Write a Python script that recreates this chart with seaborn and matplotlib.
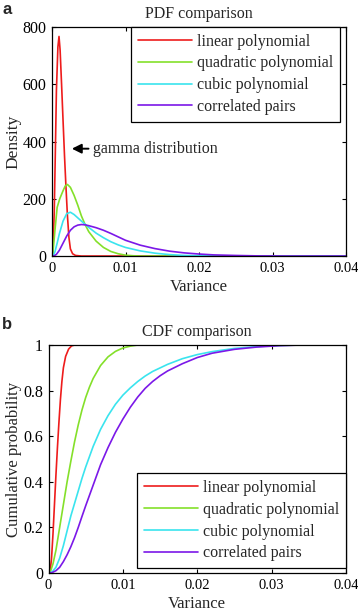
import pandas as pd
import numpy as np
import seaborn as sns
import matplotlib.pyplot as plt
from matplotlib.ticker import FormatStrFormatter

labels = ["linear polynomial", "quadratic polynomial", "cubic polynomial", "correlated pairs"]
colors = ["#ee1c1c", "#84e02a", "#3ae4ee", "#7b18e8"]

# PDF curves
pdf_x_linear = [0, 0.0001, 0.0003, 0.00045, 0.0006, 0.0008, 0.00095, 0.0011, 0.0013, 0.0015,
                0.0017, 0.0019, 0.0021, 0.0023, 0.0025, 0.0028, 0.0032, 0.004, 0.04]
pdf_linear = [0, 5, 150, 360, 580, 730, 767, 720, 600, 474, 350, 240, 140, 65, 25, 8, 2, 0, 0]

pdf_x_quad = [0, 0.0001, 0.0004, 0.0007, 0.00105, 0.0015, 0.0018, 0.0021, 0.0025, 0.003, 0.0035,
              0.004, 0.0045, 0.005, 0.006, 0.007, 0.008, 0.009, 0.01, 0.011, 0.012, 0.04]
pdf_quad = [0, 5, 90, 170, 200, 228, 245, 250, 240, 212, 178, 140, 110, 85, 52, 30, 16, 8, 3, 1, 0, 0]

pdf_x_cubic = [0, 0.0002, 0.0004, 0.0007, 0.001, 0.0015, 0.002, 0.0025, 0.003, 0.004, 0.005,
               0.006, 0.007, 0.008, 0.009, 0.01, 0.012, 0.014, 0.016, 0.018, 0.02, 0.024, 0.04]
pdf_cubic = [0, 3, 15, 45, 78, 122, 148, 153, 145, 122, 100, 80, 64, 50, 39, 30, 18, 10, 5, 2, 1, 0, 0]

pdf_x_pairs = [0, 0.0003, 0.0006, 0.001, 0.0015, 0.002, 0.0025, 0.003, 0.0035, 0.004, 0.0045,
               0.005, 0.006, 0.007, 0.008, 0.009, 0.01, 0.012, 0.014, 0.016, 0.018, 0.02,
               0.022, 0.025, 0.028, 0.032, 0.04]
pdf_pairs = [0, 1, 6, 20, 45, 70, 90, 102, 108, 110, 109, 106, 99, 90, 79, 67, 55, 38, 26, 17,
             11, 7, 4, 2, 0.5, 0, 0]

# CDF curves
cdf_x_linear = [0, 0.0002, 0.0004, 0.0006, 0.0008, 0.001, 0.0012, 0.0014, 0.0016, 0.0018,
                0.002, 0.0023, 0.0027, 0.0031, 0.0035, 0.04]
cdf_linear = [0, 0.005, 0.06, 0.17, 0.3, 0.43, 0.55, 0.66, 0.76, 0.84, 0.9, 0.95, 0.982,
              0.996, 1, 1]

cdf_x_quad = [0, 0.0003, 0.0006, 0.001, 0.0015, 0.002, 0.0025, 0.003, 0.0035, 0.004, 0.0045,
              0.005, 0.0055, 0.006, 0.007, 0.008, 0.009, 0.01, 0.011, 0.012, 0.04]
cdf_quad = [0, 0.01, 0.04, 0.1, 0.2, 0.3, 0.4, 0.49, 0.575, 0.65, 0.715, 0.77, 0.815, 0.853,
            0.91, 0.948, 0.972, 0.987, 0.995, 1, 1]

cdf_x_cubic = [0, 0.0005, 0.001, 0.0015, 0.002, 0.0025, 0.003, 0.0035, 0.004, 0.0045, 0.005,
               0.006, 0.007, 0.008, 0.009, 0.01, 0.011, 0.012, 0.013, 0.014, 0.016, 0.018,
               0.02, 0.022, 0.025, 0.028, 0.031, 0.034, 0.04]
cdf_cubic = [0, 0.005, 0.025, 0.065, 0.12, 0.185, 0.25, 0.305, 0.36, 0.415, 0.465, 0.555,
             0.63, 0.69, 0.74, 0.78, 0.812, 0.84, 0.864, 0.884, 0.915, 0.94, 0.958, 0.971,
             0.985, 0.993, 0.998, 1, 1]

cdf_x_pairs = [0, 0.0005, 0.001, 0.0015, 0.002, 0.0025, 0.003, 0.0035, 0.004, 0.0045, 0.005,
               0.006, 0.007, 0.008, 0.009, 0.01, 0.011, 0.012, 0.013, 0.014, 0.015, 0.016,
               0.018, 0.02, 0.022, 0.025, 0.028, 0.031, 0.034, 0.04]
cdf_pairs = [0, 0.002, 0.01, 0.025, 0.05, 0.08, 0.115, 0.155, 0.2, 0.248, 0.295, 0.385, 0.475,
             0.55, 0.617, 0.675, 0.727, 0.772, 0.81, 0.84, 0.865, 0.886, 0.918, 0.945, 0.964,
             0.981, 0.991, 0.997, 1, 1]


def long_df(xs, ys):
    parts = []
    for lab, x, y in zip(labels, xs, ys):
        parts.append(pd.DataFrame({"Variance": x, "value": y, "method": lab}))
    return pd.concat(parts, ignore_index=True)


pdf_df = long_df([pdf_x_linear, pdf_x_quad, pdf_x_cubic, pdf_x_pairs],
                 [pdf_linear, pdf_quad, pdf_cubic, pdf_pairs])
cdf_df = long_df([cdf_x_linear, cdf_x_quad, cdf_x_cubic, cdf_x_pairs],
                 [cdf_linear, cdf_quad, cdf_cubic, cdf_pairs])

sns.set_style("ticks")
plt.rcParams["font.family"] = ["Liberation Serif", "DejaVu Serif"]
plt.rcParams["xtick.direction"] = "in"
plt.rcParams["ytick.direction"] = "in"
plt.rcParams["xtick.top"] = True
plt.rcParams["ytick.right"] = True

fig = plt.figure(figsize=(3.58, 6.14), dpi=100)
ax1 = fig.add_axes([0.1453, 0.583, 0.8212, 0.373])
ax2 = fig.add_axes([0.1355, 0.0668, 0.831, 0.3713])

palette = dict(zip(labels, colors))

for ax, df, ylab, title in [(ax1, pdf_df, "Density", "PDF comparison"),
                            (ax2, cdf_df, "Cumulative probability", "CDF comparison")]:
    sns.lineplot(data=df, x="Variance", y="value", hue="method", palette=palette,
                 linewidth=1.2, errorbar=None, ax=ax)
    ax.set_xlim(0, 0.04)
    ax.set_xticks([0, 0.01, 0.02, 0.03, 0.04])
    ax.xaxis.set_major_formatter(FormatStrFormatter("%g"))
    ax.yaxis.set_major_formatter(FormatStrFormatter("%g"))
    ax.tick_params(length=3, width=0.8, colors="black", pad=4)
    ax.tick_params(axis="x", labelsize=10.5)
    ax.tick_params(axis="y", labelsize=11.5)
    ax.set_xlabel("Variance", fontsize=12, labelpad=3)
    ax.set_ylabel(ylab, fontsize=12.5, labelpad=1)
    ax.set_title(title, fontsize=11.5, pad=6.5)
    for s in ax.spines.values():
        s.set_linewidth(0.9)
        s.set_color("black")

ax1.set_ylim(0, 800)
ax1.set_yticks([0, 200, 400, 600, 800])
ax2.set_ylim(0, 1)
ax2.set_yticks([0, 0.2, 0.4, 0.6, 0.8, 1])
ax2.yaxis.label.set_size(12)

leg_kw = dict(fontsize=11.5, frameon=True, fancybox=False, edgecolor="black", framealpha=1,
              handlelength=3.4, handletextpad=0.32, labelspacing=0.36, borderpad=0.42,
              borderaxespad=0)
h, l = ax1.get_legend_handles_labels()
lg = ax1.legend(h, l, loc="upper right", bbox_to_anchor=(0.98, 1.0), **leg_kw)
lg.get_frame().set_linewidth(0.9)
h, l = ax2.get_legend_handles_labels()
lg = ax2.legend(h, l, loc="lower right", bbox_to_anchor=(1.0, 0.022), **leg_kw)
lg.get_frame().set_linewidth(0.9)

ax1.annotate("gamma distribution", xy=(0.0027, 375), xytext=(0.0056, 375),
             fontsize=11.5, ha="left", va="center",
             arrowprops=dict(arrowstyle="-|>", color="black", lw=1.4,
                             mutation_scale=14, shrinkA=1, shrinkB=0))

fig.text(0.006, 0.997, "a", fontsize=12, fontweight="bold", va="top", ha="left",
         family=["Liberation Sans", "DejaVu Sans"])
fig.text(0.006, 0.483, "b", fontsize=12, fontweight="bold", va="top", ha="left",
         family=["Liberation Sans", "DejaVu Sans"])

fig.savefig("out.png", dpi=100)
